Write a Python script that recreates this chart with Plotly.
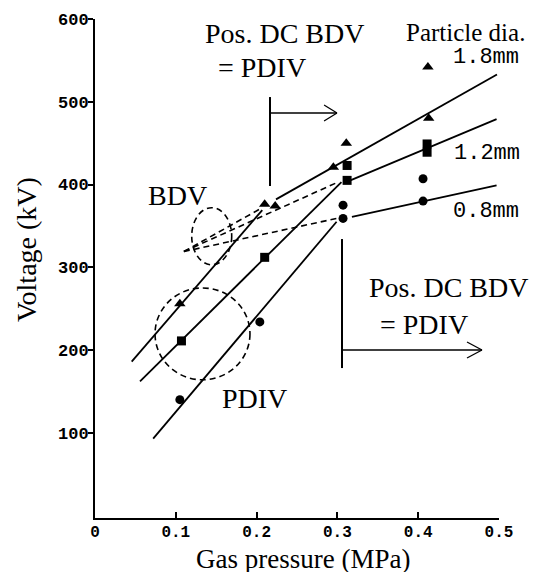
import plotly.graph_objects as go

# ---------------- data ----------------
# markers: 1.8 mm (triangles), 1.2 mm (squares), 0.8 mm (circles)
p_18 = [0.105, 0.210, 0.223, 0.295, 0.311, 0.412, 0.413]
v_18 = [256, 376, 374, 421, 450, 542, 480]
p_12 = [0.107, 0.210, 0.312, 0.312, 0.411, 0.411]
v_12 = [211, 312, 423, 405, 449, 439]
p_08 = [0.105, 0.204, 0.307, 0.307, 0.406, 0.406]
v_08 = [140, 234, 375, 359, 407, 380]

# solid fit lines (PDIV below 0.3 MPa, BDV above)
pdiv18_p = [0.0454, 0.207]; pdiv18_v = [186, 369]
bdv18_p = [0.224, 0.4975];  bdv18_v = [382, 533]
pdiv12_p = [0.0557, 0.305]; pdiv12_v = [162, 403]
bdv12_p = [0.316, 0.497];   bdv12_v = [405, 479]
pdiv08_p = [0.072, 0.299];  pdiv08_v = [93, 355]
bdv08_p = [0.318, 0.497];   bdv08_v = [361, 399]

# dashed BDV lines
dash18_p = [0.110, 0.207]; dash18_v = [319, 372]
dash12_p = [0.110, 0.301]; dash12_v = [319, 403]
dash08_p = [0.110, 0.299]; dash08_v = [319, 359]

# ellipses [x0, x1, y0, y1]
ell_pdiv = [0.0743, 0.1918, 164, 275]
ell_bdv = [0.1197, 0.1692, 303, 372]

# arrows: (vertical x, vertical y0, vertical y1, horizontal y, horizontal x end)
arrow_top = (0.2166, 505.7, 398.2, 486.4, 0.2995)
arrow_bot = (0.3057, 334.1, 178.2, 200.0, 0.479)

x_ticks = [0, 0.1, 0.2, 0.3, 0.4, 0.5]
x_ticklabels = ["0", "0.1", "0.2", "0.3", "0.4", "0.5"]
y_ticks = [100, 200, 300, 400, 500, 600]
y_ticklabels = ["100", "200", "300", "400", "500", "600"]

SERIF = "Liberation Serif"
MONO = "Liberation Mono"

fig = go.Figure()

line_style = dict(color="black", width=1.8)
for px_, vy in [(pdiv18_p, pdiv18_v), (bdv18_p, bdv18_v), (pdiv12_p, pdiv12_v),
                (bdv12_p, bdv12_v), (pdiv08_p, pdiv08_v), (bdv08_p, bdv08_v)]:
    fig.add_trace(go.Scatter(x=px_, y=vy, mode="lines", line=line_style,
                             showlegend=False, hoverinfo="skip"))
for px_, vy in [(dash18_p, dash18_v), (dash12_p, dash12_v), (dash08_p, dash08_v)]:
    fig.add_trace(go.Scatter(x=px_, y=vy, mode="lines",
                             line=dict(color="black", width=1.6, dash="6px,4px"),
                             showlegend=False, hoverinfo="skip"))

fig.add_trace(go.Scatter(x=p_18, y=v_18, mode="markers",
                         marker=dict(symbol="triangle-up", size=10, color="black"),
                         showlegend=False))
fig.add_trace(go.Scatter(x=p_12, y=v_12, mode="markers",
                         marker=dict(symbol="square", size=9, color="black"),
                         showlegend=False))
fig.add_trace(go.Scatter(x=p_08, y=v_08, mode="markers",
                         marker=dict(symbol="circle", size=9, color="black"),
                         showlegend=False))

shapes = []
for e in (ell_pdiv, ell_bdv):
    shapes.append(dict(type="circle", xref="x", yref="y", x0=e[0], x1=e[1], y0=e[2], y1=e[3],
                       line=dict(color="black", width=1.6, dash="6px,4px")))

def arrow(a, head_dx, head_dy):
    vx, vy0, vy1, hy, hx = a
    s = []
    s.append(dict(type="line", xref="x", yref="y", x0=vx, x1=vx, y0=vy0, y1=vy1,
                  line=dict(color="black", width=2)))
    s.append(dict(type="line", xref="x", yref="y", x0=vx, x1=hx, y0=hy, y1=hy,
                  line=dict(color="black", width=1.3)))
    s.append(dict(type="line", xref="x", yref="y", x0=hx - head_dx, x1=hx, y0=hy + head_dy, y1=hy,
                  line=dict(color="black", width=1.3)))
    s.append(dict(type="line", xref="x", yref="y", x0=hx - head_dx, x1=hx, y0=hy - head_dy, y1=hy,
                  line=dict(color="black", width=1.3)))
    return s

shapes += arrow(arrow_top, 0.016, 9.7)
shapes += arrow(arrow_bot, 0.0186, 9.7)

def txt(x, y, s, size=28, family=SERIF, ref="", yanchor="middle", **kw):
    return dict(x=x, y=y, xref=ref or "x", yref=ref or "y", text=s, showarrow=False,
                font=dict(family=family, size=size, color="black"),
                xanchor="center", yanchor=yanchor, **kw)

annotations = [
    txt(0.234, 582, "Pos. DC BDV"),
    txt(0.2067, 541, "= PDIV"),
    txt(0.1027, 387, "BDV"),
    txt(0.198, 142, "PDIV"),
    txt(0.4375, 275, "Pos. DC BDV"),
    txt(0.4066, 231, "= PDIV"),
    txt(0.458, 584, "Particle dia.", size=25),
    txt(0.4839, 553, "1.8mm", size=22, family=MONO),
    txt(0.4851, 437, "1.2mm", size=22, family=MONO),
    txt(0.4839, 367, "0.8mm", size=22, family=MONO),
    txt(-0.1708, 0.539, "Voltage (kV)", ref="paper", textangle=-90),
    txt(0.5149, -0.1122, "Gas pressure (MPa)", size=27, ref="paper", yanchor="bottom", height=27),
]

fig.update_layout(
    width=539, height=576,
    margin=dict(l=95, r=40, t=19, b=58),
    paper_bgcolor="white", plot_bgcolor="white",
    shapes=shapes, annotations=annotations,
    showlegend=False,
    xaxis=dict(range=[0, 0.5], showgrid=False, zeroline=False, showline=True,
               linecolor="black", linewidth=2, ticks="inside", ticklen=6, tickwidth=1.5,
               tickcolor="black", tickvals=x_ticks, ticktext=x_ticklabels,
               tickfont=dict(family=MONO, size=16, color="black", weight="bold"),
               ticklabelstandoff=-2),
    yaxis=dict(range=[-3, 600], showgrid=False, zeroline=False, showline=True,
               linecolor="black", linewidth=2, ticks="outside", ticklen=5, tickwidth=2,
               tickcolor="black", tickvals=y_ticks, ticktext=y_ticklabels,
               tickfont=dict(family=MONO, size=17, color="black", weight="bold"),
               ticklabelstandoff=-4),
)

fig.write_html("out.html")
